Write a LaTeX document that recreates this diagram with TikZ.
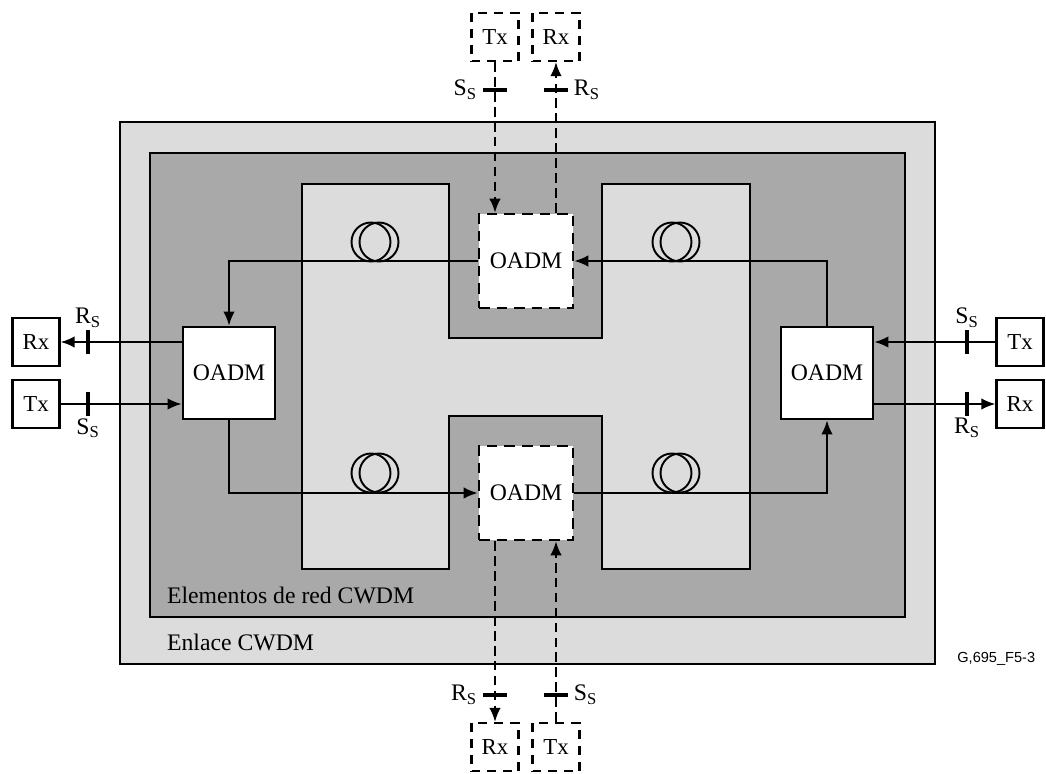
\documentclass[tikz,border=0pt]{standalone}
\usepackage{fontspec}
\setmainfont{Liberation Serif}
\newfontfamily\figsans{Liberation Sans}
\usepackage{tikz}
\usetikzlibrary{arrows.meta,positioning}
\usepackage{xcolor}
\definecolor{linkgray}{HTML}{DCDCDC}
\definecolor{nodegray}{HTML}{A9A9A9}
\tikzset{
  oadm/.style={draw=black,fill=white,line width=1.6pt,inner sep=0pt,
    minimum width=1.84cm,minimum height=1.84cm,font=\fontsize{13.5}{16}\selectfont},
  oadmdash/.style={oadm,line width=1.5pt,dash pattern=on 6pt off 4pt,
    minimum width=1.88cm,minimum height=1.88cm},
  term/.style={draw=black,fill=white,line width=1.3pt,inner sep=0pt,
    minimum width=0.94cm,minimum height=0.96cm,font=\fontsize{13}{15}\selectfont},
  termdash/.style={term,dash pattern=on 5pt off 4pt},
  link/.style={-{Latex[length=2.8mm,width=2.3mm]},draw=black,line width=1.1pt},
  linkdash/.style={link,dash pattern=on 5.5pt off 3pt},
  tickh/.style={fill=black,inner sep=0pt,minimum width=0.48cm,minimum height=2.4pt},
  tickv/.style={fill=black,inner sep=0pt,minimum width=2.4pt,minimum height=0.48cm},
  lbl/.style={inner sep=1pt,font=\fontsize{13.5}{16}\selectfont},
  coil/.style={draw=black,line width=1.1pt}
}
\begin{document}
\begin{tikzpicture}[x=0.02cm,y=-0.02cm]
  \useasboundingbox (0,0) rectangle (1046,774);
  % link and network element areas
  \filldraw[fill=linkgray,line width=1.2pt] (120,122) rectangle (935,664);
  \filldraw[fill=nodegray,line width=1.2pt] (150,153) rectangle (905,617);
  \filldraw[fill=linkgray,line width=1.2pt] (302,184) -- (449,184) -- (449,338)
    -- (602,338) -- (602,184) -- (750,184) -- (750,569) -- (602,569) -- (602,416)
    -- (449,416) -- (449,569) -- (302,569) -- cycle;
  \node[lbl,anchor=base west] (elem) at (165,603) {Elementos de red CWDM};
  \node[lbl,anchor=base west] (enlace) at (165,650) {Enlace CWDM};
  \node[anchor=base west,inner sep=0pt,font=\figsans\fontsize{8.3}{10}\selectfont] (figid) at (957,662) {G,695\_F5-3};
  % fibre coils
  \foreach \cx/\cy in {371/242,672/242,371/473,672/473}{
    \draw[coil] (\cx,\cy) circle[radius=0.39cm];
    \draw[coil] (\cx+8,\cy) circle[radius=0.39cm];
  }
  % OADMs
  \node[oadm] (oadmL) at (229,373) {OADM};
  \node[oadm] (oadmR) at (827,373) {OADM};
  \node[oadmdash] (oadmT) at (526,261) {OADM};
  \node[oadmdash] (oadmB) at (526,493) {OADM};
  % transmitters and receivers
  \node[term] (rxL) at (36,342) {Rx};
  \node[term] (txL) at (36,404) {Tx};
  \node[term] (txR) at (1020,342) {Tx};
  \node[term] (rxR) at (1020,404) {Rx};
  \node[termdash] (txT) at (495,37) {Tx};
  \node[termdash] (rxT) at (556,37) {Rx};
  \node[termdash] (rxB) at (495,747) {Rx};
  \node[termdash] (txB) at (556,747) {Tx};
  % ring
  \draw[link] (oadmR.north) |- (oadmT.east);
  \draw[link] (oadmT.west) -| (oadmL.north);
  \draw[link] (oadmL.south) |- (oadmB.west);
  \draw[link] (oadmB.east) -| (oadmR.south);
  % add/drop
  \draw[link] (oadmL.west |- rxL.east) -- (rxL.east);
  \draw[link] (txL.east) -- (txL.east -| oadmL.west);
  \draw[link] (txR.west) -- (txR.west -| oadmR.east);
  \draw[link] (oadmR.east |- rxR.west) -- (rxR.west);
  \draw[linkdash] (txT.south) -- (txT.south |- oadmT.north);
  \draw[linkdash] (rxT.south |- oadmT.north) -- (rxT.south);
  \draw[linkdash] (rxB.north |- oadmB.south) -- (rxB.north);
  \draw[linkdash] (txB.north) -- (txB.north |- oadmB.south);
  % reference points
  \node[tickh] (tkTS) at (495,90) {};
  \node[tickh] (tkTR) at (556,90) {};
  \node[tickh] (tkBR) at (495,695) {};
  \node[tickh] (tkBS) at (556,695) {};
  \node[tickv] (tkLR) at (88,342) {};
  \node[tickv] (tkLS) at (88,404) {};
  \node[tickv] (tkRS) at (967,342) {};
  \node[tickv] (tkRR) at (967,404) {};
  \node[lbl,left=2pt of tkTS] (lbTS) {S\textsubscript{S}};
  \node[lbl,right=2pt of tkTR] (lbTR) {R\textsubscript{S}};
  \node[lbl,left=2pt of tkBR] (lbBR) {R\textsubscript{S}};
  \node[lbl,right=2pt of tkBS] (lbBS) {S\textsubscript{S}};
  \node[lbl,above=0pt of tkLR] (lbLR) {R\textsubscript{S}};
  \node[lbl,below=0pt of tkLS] (lbLS) {S\textsubscript{S}};
  \node[lbl,above=0pt of tkRS] (lbRS) {S\textsubscript{S}};
  \node[lbl,below=0pt of tkRR] (lbRR) {R\textsubscript{S}};
\end{tikzpicture}
\end{document}
